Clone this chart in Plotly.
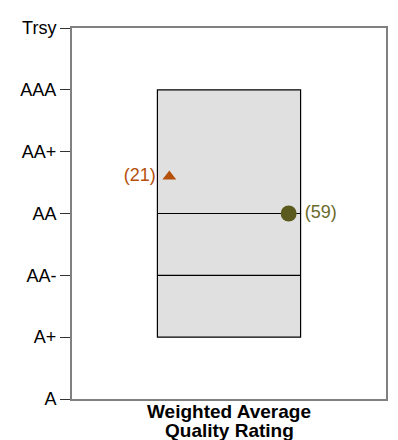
import plotly.graph_objects as go

rating_labels = ["A", "A+", "AA-", "AA", "AA+", "AAA", "Trsy"]
rating_values = [0, 1, 2, 3, 4, 5, 6]

box_low = 1      # A+
box_high = 5     # AAA
box_lines = [3, 2]  # AA, AA-

tri_value = 3.6
tri_count = 21
circ_value = 3
circ_count = 59

title_lines = ["Weighted Average", "Quality Rating"]

box_x0, box_x1 = 0.272, 0.728
tri_x = 0.31
circ_x = 0.69

fig = go.Figure()
fig.add_trace(go.Bar(
    x=[(box_x0 + box_x1) / 2], y=[box_high - box_low], base=[box_low],
    width=[box_x1 - box_x0],
    marker=dict(color="#E0E0E0", line=dict(color="#000000", width=1.2)),
    hoverinfo="skip", showlegend=False))
for v in box_lines:
    fig.add_trace(go.Scatter(x=[box_x0, box_x1], y=[v, v], mode="lines",
                             line=dict(color="#000000", width=1.2),
                             hoverinfo="skip", showlegend=False))
fig.add_trace(go.Scatter(
    x=[tri_x], y=[tri_value], mode="markers+text",
    marker=dict(symbol="triangle-up", size=12, color="#B5500A"),
    text=[f"({tri_count}) "], textposition="middle left",
    textfont=dict(color="#B5500A", size=18, family="Liberation Sans"),
    showlegend=False))
fig.add_trace(go.Scatter(
    x=[circ_x], y=[circ_value], mode="markers+text",
    marker=dict(symbol="circle", size=16, color="#5A5A1E"),
    text=[f" ({circ_count})"], textposition="middle right",
    textfont=dict(color="#6B6A2A", size=18, family="Liberation Sans"),
    showlegend=False))

for line, shift in zip(title_lines, [-12.5, -31]):
    fig.add_annotation(x=0.5, y=0, xref="paper", yref="paper",
                       text=f"<b>{line}</b>", showarrow=False,
                       yanchor="middle", yshift=shift,
                       font=dict(size=19, color="#000000"))

fig.update_layout(
    width=390, height=432,
    margin=dict(l=64, r=10, t=10, b=41),
    paper_bgcolor="white", plot_bgcolor="white",
    font=dict(family="Liberation Sans", size=18, color="#000000"),
    xaxis=dict(range=[0, 1], showticklabels=False, ticks="", showgrid=False,
               zeroline=False, showline=True, linecolor="#808080", linewidth=2,
               mirror=True),
    yaxis=dict(range=[0, 6], tickvals=rating_values, ticktext=rating_labels,
               ticks="outside", ticklen=10, tickcolor="#333333", tickwidth=1,
               showgrid=False, zeroline=False, showline=True,
               linecolor="#808080", linewidth=2, mirror=True,
               tickfont=dict(size=18)),
)
fig.write_html("out.html")
